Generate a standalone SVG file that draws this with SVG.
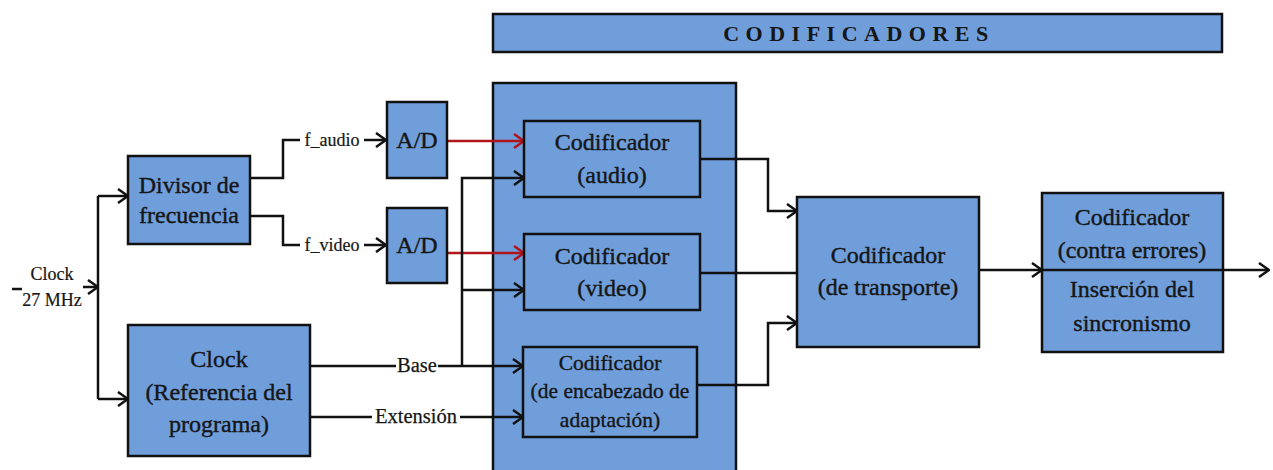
<svg xmlns="http://www.w3.org/2000/svg" width="1273" height="470" viewBox="0 0 1273 470">
<style>
.box{fill:#6f9edb;stroke:#111;stroke-width:2.5}
.t{font-family:"Liberation Serif",serif;font-size:24px;fill:#161616;stroke:#161616;stroke-width:0.4;text-anchor:middle}
.t2{font-family:"Liberation Serif",serif;font-size:21.5px;fill:#161616;stroke:#161616;stroke-width:0.35;text-anchor:middle}
.s{font-family:"Liberation Serif",serif;font-size:18px;fill:#161616;stroke:#161616;stroke-width:0.2;text-anchor:middle}
.m{font-family:"Liberation Serif",serif;font-size:20.5px;fill:#161616;stroke:#161616;stroke-width:0.25;text-anchor:middle}
.ln{fill:none;stroke:#111;stroke-width:2.5}
.red{fill:none;stroke:#b0141c;stroke-width:2.5}
</style>
<defs>
<marker id="ah" markerWidth="12" markerHeight="16" refX="11" refY="8" orient="auto" markerUnits="userSpaceOnUse">
<path d="M1,1 L11,8 L1,15" fill="none" stroke="#111" stroke-width="2.5"/>
</marker>
<marker id="ahr" markerWidth="12" markerHeight="16" refX="11" refY="8" orient="auto" markerUnits="userSpaceOnUse">
<path d="M1,1 L11,8 L1,15" fill="none" stroke="#b0141c" stroke-width="2.5"/>
</marker>
</defs>
<g id="header">
<rect class="box" x="493" y="14" width="729" height="38"/>
<text x="859" y="41" font-family="Liberation Serif,serif" font-size="22" font-weight="bold" fill="#161616" text-anchor="middle" letter-spacing="6.5">CODIFICADORES</text>
</g>
<g id="container">
<rect class="box" x="493" y="83" width="243" height="400"/>
</g>
<g id="connectors">
<path class="ln" d="M12,289 H22"/>
<path class="ln" d="M83,287 H98" marker-end="url(#ah)"/>
<path class="ln" d="M98,196 V399"/>
<path class="ln" d="M98,196 H128" marker-end="url(#ah)"/>
<path class="ln" d="M98,399 H128" marker-end="url(#ah)"/>
<path class="ln" d="M250,178 H283 V140 H300"/>
<path class="ln" d="M364,140 H386" marker-end="url(#ah)"/>
<path class="ln" d="M250,216 H283 V245 H300"/>
<path class="ln" d="M364,245 H386" marker-end="url(#ah)"/>
<path class="red" d="M447,141 H524" marker-end="url(#ahr)"/>
<path class="red" d="M447,253 H524" marker-end="url(#ahr)"/>
<path class="ln" d="M462,366 V178 H524" marker-end="url(#ah)"/>
<path class="ln" d="M462,290 H524" marker-end="url(#ah)"/>
<path class="ln" d="M310,366 H396"/>
<path class="ln" d="M438,366 H523" marker-end="url(#ah)"/>
<path class="ln" d="M310,417 H372"/>
<path class="ln" d="M460,417 H523" marker-end="url(#ah)"/>
<path class="ln" d="M700,159 H768 V211 H797" marker-end="url(#ah)"/>
<path class="ln" d="M700,273 H797"/>
<path class="ln" d="M697,385 H768 V323 H797" marker-end="url(#ah)"/>
<path class="ln" d="M979,270 H1042" marker-end="url(#ah)"/>
<path class="ln" d="M1042,270 H1269" marker-end="url(#ah)"/>
<text class="s" x="52" y="280">Clock</text>
<text class="s" x="52" y="306">27 MHz</text>
<text class="s" x="332" y="146">f_audio</text>
<text class="s" x="332" y="251">f_video</text>
<text class="m" x="417" y="372">Base</text>
<text class="m" x="416" y="423">Extensión</text>
</g>
<g id="divisor">
<rect class="box" x="128" y="156" width="122" height="88"/>
<text class="t" x="189" y="193">Divisor de</text>
<text class="t" x="189" y="223">frecuencia</text>
</g>
<g id="clockref">
<rect class="box" x="128" y="325" width="182" height="131"/>
<text class="t" x="219" y="367">Clock</text>
<text class="t" x="219" y="400">(Referencia del</text>
<text class="t" x="219" y="432">programa)</text>
</g>
<g id="ad-audio">
<rect class="box" x="387" y="102" width="60" height="76"/>
<text class="t" x="417" y="148">A/D</text>
</g>
<g id="ad-video">
<rect class="box" x="387" y="208" width="60" height="75"/>
<text class="t" x="417" y="253">A/D</text>
</g>
<g id="cod-audio">
<rect class="box" x="524" y="121" width="176" height="76"/>
<text class="t" x="612" y="150">Codificador</text>
<text class="t" x="612" y="183">(audio)</text>
</g>
<g id="cod-video">
<rect class="box" x="524" y="234" width="176" height="76"/>
<text class="t" x="612" y="264">Codificador</text>
<text class="t" x="612" y="296">(video)</text>
</g>
<g id="cod-encabezado">
<rect class="box" x="523" y="347" width="174" height="90"/>
<text class="t2" x="610" y="370">Codificador</text>
<text class="t2" x="610" y="398">(de encabezado de</text>
<text class="t2" x="610" y="427">adaptación)</text>
</g>
<g id="cod-transporte">
<rect class="box" x="797" y="197" width="182" height="150"/>
<text class="t" x="888" y="263">Codificador</text>
<text class="t" x="888" y="295">(de transporte)</text>
</g>
<g id="cod-errores">
<rect class="box" x="1042" y="193" width="181" height="159"/>
<line x1="1042" y1="270" x2="1223" y2="270" stroke="#111" stroke-width="2.5"/>
<text class="t" x="1132" y="225">Codificador</text>
<text class="t" x="1132" y="258">(contra errores)</text>
<text class="t" x="1132" y="297">Inserción del</text>
<text class="t" x="1132" y="331">sincronismo</text>
</g>
</svg>
